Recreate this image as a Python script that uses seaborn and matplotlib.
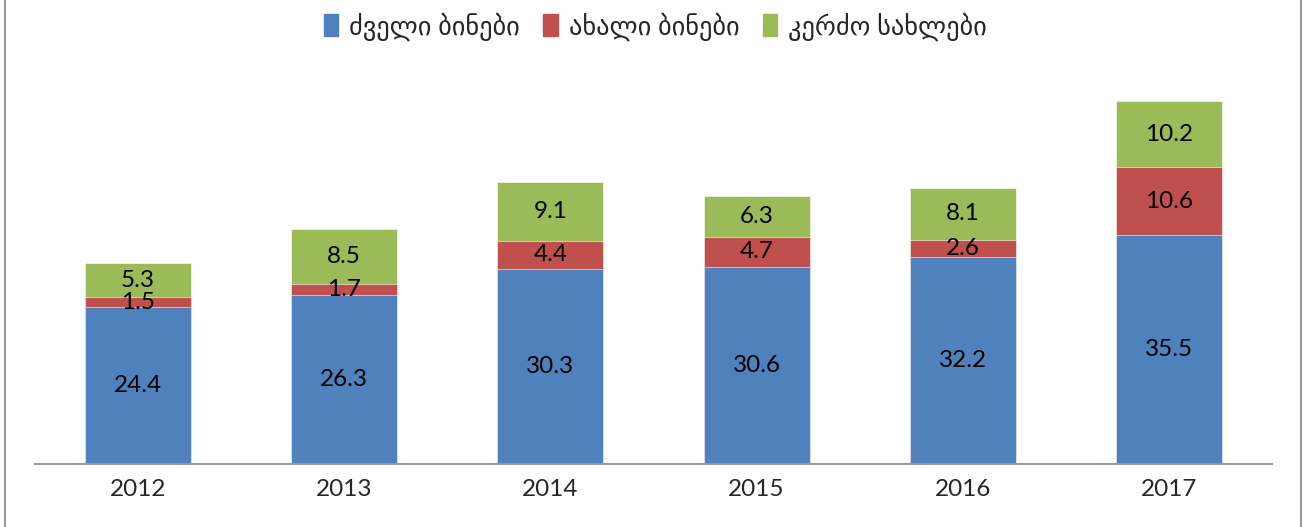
import matplotlib
matplotlib.use("Agg")
import matplotlib.pyplot as plt
import matplotlib.patches as mpatches
from matplotlib.lines import Line2D
import pandas as pd
import seaborn as sns

# data
years = ["2012", "2013", "2014", "2015", "2016", "2017"]
old_flats = [24.4, 26.3, 30.3, 30.6, 32.2, 35.5]
new_flats = [1.5, 1.7, 4.4, 4.7, 2.6, 10.6]
private_houses = [5.3, 8.5, 9.1, 6.3, 8.1, 10.2]
series_names = ["ძველი ბინები", "ახალი ბინები", "კერძო სახლები"]
colors = ["#4F81BD", "#C0504D", "#9BBB59"]

sns.set_style("white")
plt.rcParams["font.family"] = ["Lato", "DejaVu Sans"]

df = pd.DataFrame({"year": years, "old": old_flats, "new": new_flats, "house": private_houses})
df["lvl1"] = df["old"]
df["lvl2"] = df["old"] + df["new"]
df["lvl3"] = df["lvl2"] + df["house"]

fig = plt.figure(figsize=(13.08, 5.27), dpi=100)
ax = fig.add_axes([0.0268, 0.1195, 0.9457, 0.7332])

# stacked bars drawn as overlapping cumulative totals
for col, c in zip(["lvl3", "lvl2", "lvl1"], colors[::-1]):
    sns.barplot(data=df, x="year", y=col, color=c, width=0.514, ax=ax,
                saturation=1, edgecolor="white", linewidth=0.4)

# value labels in the middle of each segment
for i in range(len(years)):
    segs = [(0, old_flats[i]), (old_flats[i], new_flats[i]),
            (old_flats[i] + new_flats[i], private_houses[i])]
    for base, val in segs:
        ax.text(i, base + val / 2, f"{val:.1f}", ha="center", va="center",
                fontsize=17.5, color="black")

ax.set_xlim(-0.5, 5.5)
ax.set_ylim(0, 60)
ax.set_xlabel("")
ax.set_ylabel("")
ax.set_yticks([])
for s in ["top", "right", "left"]:
    ax.spines[s].set_visible(False)
ax.spines["bottom"].set_color("#999999")
ax.spines["bottom"].set_linewidth(1.5)
ax.tick_params(axis="x", length=0, pad=11, labelsize=17.5)

handles = [mpatches.Patch(color=c, label=n) for c, n in zip(colors, series_names)]
fig.legend(handles=handles, loc="center", bbox_to_anchor=(0.501, 0.95), ncol=3,
           frameon=False, fontsize=19, handlelength=0.55, handleheight=0.9,
           handletextpad=0.4, columnspacing=0.9)

# outer frame lines left and right
for xf in [5 / 1308, 1301 / 1308]:
    fig.add_artist(Line2D([xf, xf], [0, 1], transform=fig.transFigure,
                          color="#999999", linewidth=1.5))

fig.savefig("out.png", dpi=100)
